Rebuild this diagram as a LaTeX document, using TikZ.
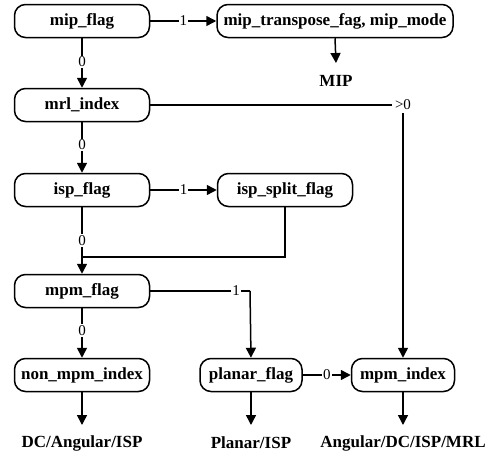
\documentclass[tikz,border=0pt]{standalone}
\usepackage{fontspec}
\setmainfont{Liberation Serif}
\usetikzlibrary{arrows.meta}
\tikzset{
  box/.style={draw, line width=1.5pt, rounded corners=11pt, minimum height=33pt,
    inner sep=2pt, font=\fontsize{17}{19}\selectfont\bfseries},
  result/.style={font=\fontsize{17}{19}\selectfont\bfseries, inner sep=1pt},
  lbl/.style={fill=white, inner sep=1pt, font=\fontsize{15}{17}\selectfont},
  conn/.style={line width=1.5pt},
  arr/.style={conn, -{Triangle[length=10pt,width=10pt]}},
}
\begin{document}
\begin{tikzpicture}[x=1pt, y=-1pt]
\useasboundingbox (0,0) rectangle (490,455);

% decision nodes
\node[box, minimum width=135pt] (mipf) at (82,21) {mip\_flag};
\node[box, minimum width=236pt] (mipt) at (335,21) {mip\_transpose\_fag, mip\_mode};
\node[box, minimum width=135pt] (mrl) at (82,105) {mrl\_index};
\node[box, minimum width=135pt] (isp) at (82,190) {isp\_flag};
\node[box, minimum width=135pt] (ispsplit) at (285,190) {isp\_split\_flag};
\node[box, minimum width=135pt] (mpmf) at (82,291) {mpm\_flag};
\node[box, minimum width=135pt] (nonmpm) at (82,375) {non\_mpm\_index};
\node[box, minimum width=102pt] (planar) at (251,375) {planar\_flag};
\node[box, minimum width=103pt] (mpmi) at (403,375) {mpm\_index};

% resulting modes
\node[result] (tMIP) at (336,81) {MIP};
\node[result] (tnon) at (82,443) {DC/Angular/ISP};
\node[result] (tpl) at (251,443) {Planar/ISP};
\node[result] (tmpm) at (403,443) {Angular/DC/ISP/MRL};

\coordinate (eMIP) at (336,63);
\coordinate (enon) at (82,425);
\coordinate (epl) at (251,425);
\coordinate (empm) at (403,425);
\coordinate (join) at (82,257);
\coordinate (cornerA) at (403,105);
\coordinate (cornerB) at (250,291);

% connectors
\draw[arr] (mipf) -- node[lbl] {1} (mipt);
\draw[arr] (mipt.south) -- (eMIP);
\draw[arr] (mipf) -- node[lbl, pos=0.48] {0} (mrl);
\draw[conn] (mrl.east) -- (cornerA);
\draw[arr] (cornerA) -- (mpmi.north);
\node[lbl, inner sep=3pt] at (cornerA) {>0};
\draw[arr] (mrl) -- node[lbl, pos=0.45] {0} (isp);
\draw[arr] (isp) -- node[lbl] {1} (ispsplit);
\draw[arr] (isp) -- node[lbl, pos=0.5] {0} (mpmf);
\draw[conn] (ispsplit.south) |- (join);
\draw[conn] (mpmf.east) -- (cornerB);
\draw[arr] (cornerB) -- (planar.north);
\node[lbl] at (236,291) {1};
\draw[arr] (mpmf) -- node[lbl, pos=0.45] {0} (nonmpm);
\draw[arr] (planar) -- node[lbl] {0} (mpmi);
\draw[arr] (nonmpm.south) -- (enon);
\draw[arr] (planar.south) -- (epl);
\draw[arr] (mpmi.south) -- (empm);
\end{tikzpicture}
\end{document}
